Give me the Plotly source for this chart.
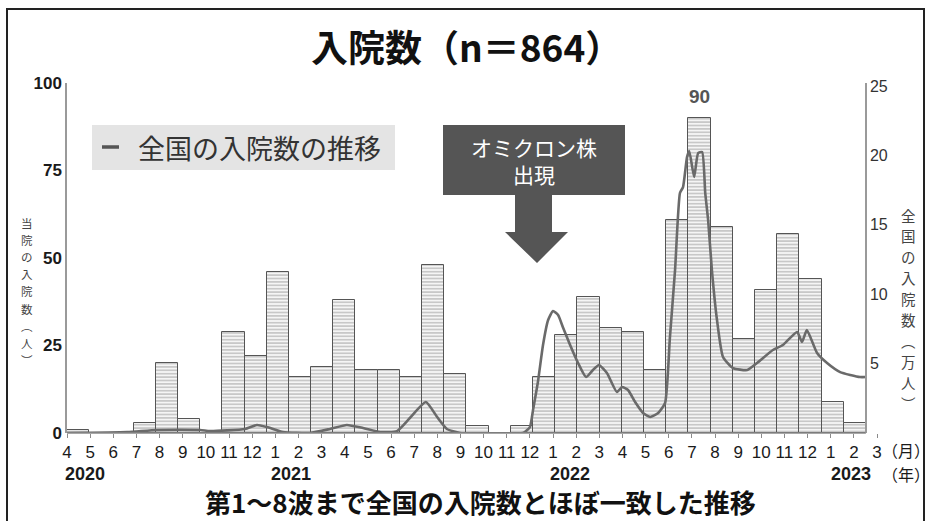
import plotly.graph_objects as go

# ---------------- data ----------------
month_labels = ["4", "5", "6", "7", "8", "9", "10", "11", "12",
                "1", "2", "3", "4", "5", "6", "7", "8", "9", "10", "11", "12",
                "1", "2", "3", "4", "5", "6", "7", "8", "9", "10", "11", "12",
                "1", "2", "3"]
year_labels = ["2020", "2021", "2022", "2023"]
year_pos = [0.81, 10.1, 22.67, 35.33]

# monthly inpatients at this hospital, one bar per month (2020-04 .. 2023-03)
bar_values = [1, 0, 0, 3, 20, 4, 0, 29, 22,
              46, 16, 19, 38, 18, 18, 16, 48, 17, 2, 0, 2,
              16, 28, 39, 30, 29, 18, 61, 90, 59, 27, 41, 57,
              44, 9, 3]

# national inpatients (10k persons); x = months elapsed since 2020-04-01
line_x = [0.0, 2.71, 4.05, 6.00, 6.44, 8.02, 8.56, 9.01, 9.73, 10.95,
          11.85, 12.61, 13.34, 14.11, 14.87, 15.45, 16.17, 16.68, 17.12, 17.71,
          20.55, 20.86, 21.00, 21.22, 21.45, 21.68, 21.90, 22.13, 22.36, 22.67,
          23.03, 23.39, 23.70, 23.97, 24.33, 24.78, 25.01, 25.28, 25.60, 25.96,
          26.28, 26.64, 26.95, 27.17, 27.40, 27.62, 27.76, 27.94, 28.04, 28.26,
          28.44, 28.62, 28.76, 28.89, 29.06, 29.29, 29.56, 30.01, 30.65, 31.09,
          31.81, 32.26, 32.90, 33.12, 33.34, 33.80, 34.25, 34.84, 35.73, 36.0]
line_y = [0.0, 0.07, 0.22, 0.22, 0.14, 0.29, 0.58, 0.43, 0.07, 0.0,
          0.29, 0.58, 0.36, 0.07, 0.14, 1.08, 2.23, 1.15, 0.29, 0.0,
          0.0, 0.43, 1.66, 3.67, 6.34, 8.14, 8.79, 8.50, 7.56, 6.34,
          5.04, 4.03, 4.54, 4.90, 4.32, 2.95, 3.31, 3.10, 2.23, 1.44,
          1.15, 1.44, 2.16, 6.92, 11.74, 17.29, 17.72, 19.88, 20.32, 18.44,
          20.17, 20.24, 17.29, 15.35, 11.74, 8.14, 5.48, 4.68, 4.54, 5.04,
          5.98, 6.34, 7.28, 6.56, 7.42, 5.76, 5.04, 4.39, 4.03, 4.03]

left_ticks = [0, 25, 50, 75, 100]
right_ticks = [5, 10, 15, 20, 25]

left_title_chars = list("当院の入院数") + ["︵", "人", "︶"]
right_title_chars = list("全国の入院数") + ["︵", "万", "人", "︶"]

# ---------------- layout helpers ----------------
L, R, T, B = 67, 877, 83, 433          # plot area in page pixels
W, H = R - L, B - T
N_BARS = len(bar_values)
X_MAX = 36.5                            # x range, months
LABEL_STEP = 36.5 / 35                  # month labels are spread a bit wider than bars


def PX(px):
    return (px - L) / W


def PY(py):
    return (B - py) / H


JP = "Noto Sans CJK JP"
NUM = "Liberation Sans"

fig = go.Figure()

fig.add_trace(go.Bar(
    x=[i + 0.5 for i in range(N_BARS)],
    y=bar_values,
    width=1.0,
    marker=dict(
        color="#f3f3f3",
        pattern=dict(shape="-", fgcolor="#858585", bgcolor="#f5f5f5",
                     size=3.4, solidity=0.4),
        line=dict(color="#555555", width=1),
    ),
    yaxis="y",
    showlegend=False,
))

fig.add_trace(go.Scatter(
    x=line_x, y=line_y, mode="lines",
    line=dict(color="#6a6a6a", width=2.6, shape="spline", smoothing=0.5),
    yaxis="y2", showlegend=False,
))

fig.update_layout(
    width=931, height=521, autosize=False,
    margin=dict(l=L, r=931 - R, t=T, b=521 - B),
    paper_bgcolor="white", plot_bgcolor="white",
    bargap=0,
    xaxis=dict(
        range=[0, X_MAX], tickmode="array",
        tickvals=[i * LABEL_STEP for i in range(len(month_labels))],
        ticktext=month_labels,
        showgrid=False, zeroline=False, showline=False,
        ticks="outside", ticklen=4, tickcolor="#8a8a8a", tickwidth=1,
        tickfont=dict(family=NUM, size=17, color="#1a1a1a"),
    ),
    yaxis=dict(
        range=[0, 100], tickmode="array", tickvals=left_ticks,
        showgrid=False, zeroline=False, showline=True,
        linecolor="#9a9a9a", linewidth=1.5, ticks="",
        tickfont=dict(family=NUM, size=17, color="#1a1a1a", weight="bold"),
    ),
    yaxis2=dict(
        range=[0, 350 / 13.88], overlaying="y", side="right",
        anchor="free", position=PX(866),
        tickmode="array", tickvals=right_ticks,
        showgrid=False, zeroline=False, showline=True,
        linecolor="#9a9a9a", linewidth=1.5, ticks="",
        tickfont=dict(family=NUM, size=16, color="#333333"),
    ),
)

shapes = []
# baseline of the bars (x axis line, only under the bars)
shapes.append(dict(type="line", xref="x", yref="paper",
                   x0=0, x1=N_BARS, y0=0, y1=0,
                   line=dict(color="#8a8a8a", width=1.5)))
# outer frame
shapes.append(dict(type="rect", xref="paper", yref="paper",
                   x0=PX(7), x1=PX(924), y0=PY(530), y1=PY(9),
                   line=dict(color="#222222", width=2), fillcolor="rgba(0,0,0,0)",
                   layer="below"))
# legend box
shapes.append(dict(type="rect", xref="paper", yref="paper",
                   x0=PX(92), x1=PX(395), y0=PY(170), y1=PY(125),
                   line=dict(width=0), fillcolor="#e4e4e4", layer="below"))
shapes.append(dict(type="line", xref="paper", yref="paper",
                   x0=PX(102), x1=PX(119), y0=PY(147), y1=PY(147),
                   line=dict(color="#555555", width=3.5)))
# omicron box + arrow
shapes.append(dict(type="rect", xref="paper", yref="paper",
                   x0=PX(443), x1=PX(625), y0=PY(195), y1=PY(125),
                   line=dict(width=0), fillcolor="#555555"))
pts = [(515, 194), (552, 194), (552, 232), (568, 232), (537, 263), (505, 232), (515, 232)]
path = "M " + " L ".join(f"{PX(a):.5f},{PY(b):.5f}" for a, b in pts) + " Z"
shapes.append(dict(type="path", xref="paper", yref="paper", path=path,
                   line=dict(width=0), fillcolor="#555555"))
fig.update_layout(shapes=shapes)


def txt(text, x, y, size, color="#1a1a1a", family=JP, xref="paper",
        xanchor="center"):
    return dict(text=text, xref=xref, yref="paper", x=x, y=y,
                xanchor=xanchor, yanchor="middle", showarrow=False,
                font=dict(family=family, size=size, color=color))


ann = []
ann.append(txt("<b>入院数（n＝864）</b>", PX(466), PY(46), 37, "#111111"))
ann.append(txt("全国の入院数の推移", PX(136), PY(147), 27, "#333333",
               xanchor="left"))
ann.append(txt("オミクロン株<br>出現", PX(534), PY(160), 21, "white"))
ann.append(txt("<b>90</b>", 28.5, PY(96), 19, "#555555", family=NUM, xref="x"))

# vertical axis titles, one character per line
for k, ch in enumerate(left_title_chars):
    ann.append(txt(ch, PX(27), PY(223 + 17.1 * k), 11.5, "#444444"))
for k, ch in enumerate(right_title_chars):
    ann.append(txt(ch, PX(909), PY(215 + 20.9 * k), 14.5, "#444444"))

for yl, xp in zip(year_labels, year_pos):
    ann.append(txt(f"<b>{yl}</b>", xp, PY(474), 18, family=NUM, xref="x"))
ann.append(txt("（月）", PX(906), PY(450), 16))
ann.append(txt("（年）", PX(906), PY(474), 16))
ann.append(txt("<b>第1〜8波まで全国の入院数とほぼ一致した推移</b>",
               PX(480), PY(501), 26, "#111111"))
fig.update_layout(annotations=ann)

fig.write_html("out.html")
